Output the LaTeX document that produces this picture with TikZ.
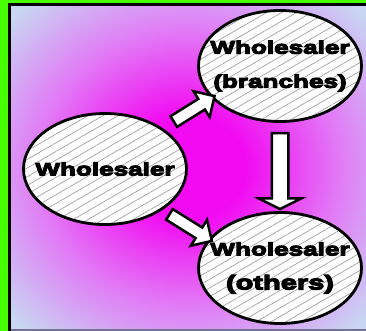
\documentclass[tikz,border=0pt]{standalone}
\usepackage{fontspec}
\usepackage{tikz}
\usetikzlibrary{positioning}
\usetikzlibrary{shapes.geometric,shapes.arrows}
\usetikzlibrary{patterns.meta}
\newfontfamily\heavyfont[FakeBold=6,FakeStretch=1.45]{Liberation Sans Bold}
\newcommand\zerowide[1]{\makebox[0pt]{#1}}
\definecolor{framegreen}{RGB}{70,255,0}
\definecolor{edgeblue}{RGB}{200,214,242}
\definecolor{midpurple}{RGB}{226,120,246}
\definecolor{hotpink}{RGB}{242,10,242}
\definecolor{hatchgray}{RGB}{160,160,160}
\pgfdeclareradialshading{bgshade}{\pgfpoint{0bp}{0bp}}{color(0bp)=(hotpink); color(8bp)=(hotpink); color(21bp)=(midpurple); color(34bp)=(edgeblue); color(50bp)=(edgeblue)}

\begin{document}
\begin{tikzpicture}[x=1pt,y=-1pt,node distance=2cm,on grid,
    firm/.style={ellipse,draw,line width=2.8pt,minimum width=163pt,minimum height=111pt,
        inner sep=0pt,align=center,
        preaction={fill=white},
        pattern={Lines[angle=30,distance=7.5pt,line width=0.7pt]},pattern color=hatchgray,
        font=\heavyfont\fontsize{18pt}{34pt}\selectfont},
    fatarrow/.style={single arrow,draw,fill=white,line width=2.5pt,inner xsep=0pt,
        inner ysep=5pt,single arrow head extend=9pt,single arrow tip angle=90}]
    \useasboundingbox (0,0) rectangle (366,331);
    % frame and background
    \fill[framegreen] (0,0) rectangle (366,331);
    \shade[shading=bgshade] (11,6) rectangle (366,329);
    \draw[line width=3pt] (9.5,331) -- (9.5,4.5) -- (366,4.5);
    \fill[gray!70!blue!60!black!70] (11,329) rectangle (366,331);

    \node[firm] (whole) at (105,169) {\zerowide{Wholesaler}};
    \node[firm] (branches) [above right=103pt and 175pt of whole] {\zerowide{Wholesaler}\\\zerowide{(branches)}};
    \node[firm,below=202pt of branches] (others) {\zerowide{Wholesaler}\\\zerowide{\fontsize{20pt}{34pt}\selectfont(others)}};

    \node[fatarrow,rotate=32,minimum height=48pt] (up) at (191.5,110.5) {};
    \node[fatarrow,rotate=-32,minimum height=50pt] (down) at (188,226) {};
    \node[fatarrow,rotate=-90,minimum height=76pt,inner ysep=7pt,
        single arrow head extend=13pt,single arrow tip angle=127] (drop) at (280,169) {};
\end{tikzpicture}
\end{document}
